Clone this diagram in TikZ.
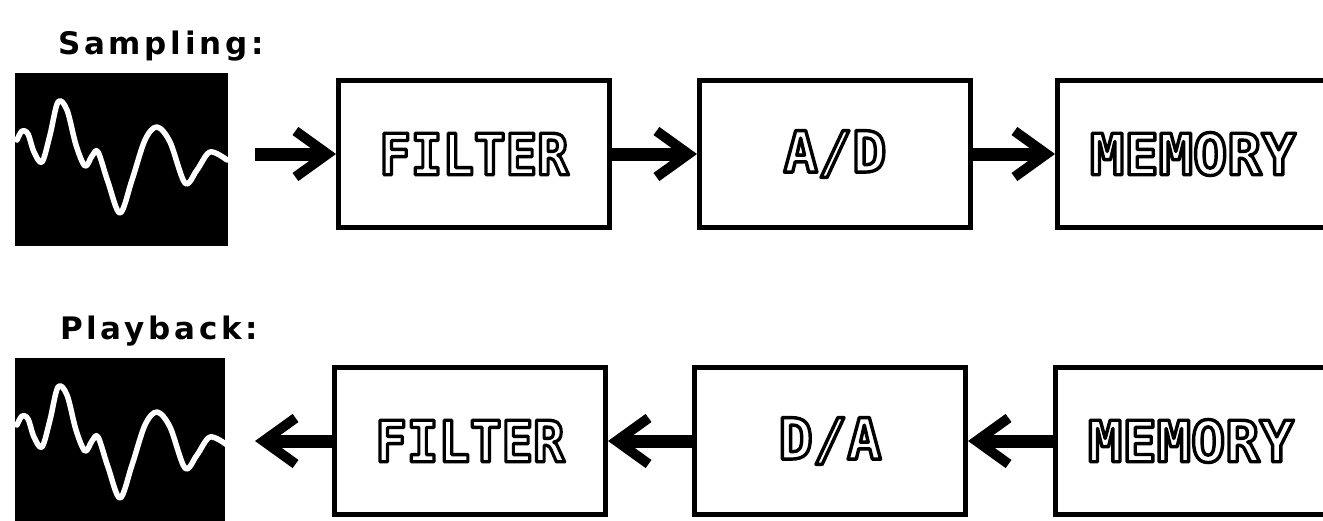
\documentclass[tikz,border=0pt]{standalone}
\usepackage{fontspec}
\usetikzlibrary{arrows.meta}
\newfontfamily\blockfont{DejaVu Sans Mono}
\newfontfamily\labelfont{DejaVu Sans}[LetterSpace=12]

% hollow lettering: stroked glyph outlines only
\newcommand\hollow[1]{\special{pdf:literal direct 1 Tr 3.4 w 1 j}#1\special{pdf:literal direct 0 Tr}}

\tikzset{
  stage/.style={draw=black, line width=5pt, fill=white, rectangle,
    minimum width=271pt, minimum height=147pt, inner sep=0pt,
    font=\blockfont\bfseries\fontsize{57}{60}\selectfont},
  scope box/.style={fill=black, rectangle, inner sep=0pt, anchor=north west},
  heading/.style={font=\labelfont\bfseries\fontsize{31}{36}\selectfont, anchor=base west, inner sep=0pt},
  flow/.style={line width=13pt, -{Straight Barb[length=32pt, width=46pt, line width=10pt]}},
  trace/.style={white, line width=5.5pt, line join=round, line cap=round}
}

\begin{document}
\begin{tikzpicture}[x=1pt, y=-1pt]
\useasboundingbox (0,0) rectangle (1323,520);
\clip (0,0) rectangle (1323,520);

% headings
\node[heading] (hs) at (58,54) {Sampling:};
\node[heading] (hp) at (60,339) {Playback:};

% oscilloscope panels
\node[scope box, minimum width=213pt, minimum height=173pt] (w1) at (15,73) {};
\node[scope box, minimum width=210pt, minimum height=175pt] (w2) at (15,358) {};

% waveform traces
\foreach \dy in {0,285} {
  \draw[trace, yshift=-\dy pt] plot[smooth, tension=0.55] coordinates {
    (17,140) (22,131) (28,134) (34,152) (42,162) (50,135) (58,102) (67,110)
    (76,145) (85,166) (92,156) (98,152) (108,182) (120,213) (132,180)
    (145,140) (157,127) (170,142) (185,183) (197,170) (210,152) (227,160)};
}

% sampling chain
\node[stage] (f1) at (474,154) {\hollow{\scalebox{0.92}[1]{FILTER}}};
\node[stage] (ad) at (835,154) {\hollow{A/D}};
\node[stage] (m1) at (1193,154) {\hollow{MEMORY}};

% playback chain
\node[stage] (f2) at (470,441) {\hollow{\scalebox{0.92}[1]{FILTER}}};
\node[stage] (da) at (830,441) {\hollow{D/A}};
\node[stage] (m2) at (1191,441) {\hollow{MEMORY}};

\coordinate (in1) at (255,154);
\coordinate (out2) at (255,441);

\draw[flow] (in1) -- (f1.west);
\draw[flow] (f1.east) -- (ad.west);
\draw[flow] (ad.east) -- (m1.west);

\draw[flow] (m2.west) -- (da.east);
\draw[flow] (da.west) -- (f2.east);
\draw[flow] (f2.west) -- (out2);
\end{tikzpicture}
\end{document}
